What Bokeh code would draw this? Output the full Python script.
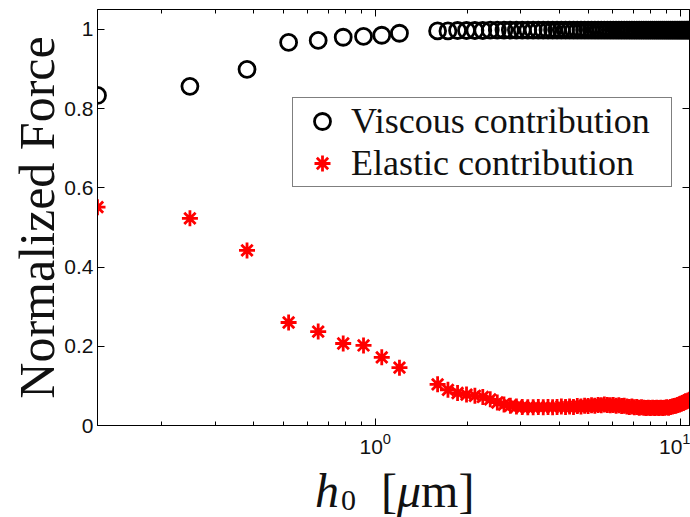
from bokeh.plotting import figure
from bokeh.models import (LogAxis, LinearAxis, FixedTicker, LogTickFormatter, Range1d,
                          Legend, LegendItem, ColumnDataSource, Div)
from bokeh.layouts import column
from bokeh.embed import file_html
from bokeh.resources import INLINE

# ---------------- data ----------------
h0 = [0.123, 0.247, 0.38, 0.52, 0.65, 0.785, 0.915, 1.05, 1.2,
      1.60, 1.73, 1.86, 1.99, 2.12, 2.25, 2.38, 2.51, 2.64, 2.77,
      2.90, 3.03, 3.16, 3.29, 3.42, 3.55, 3.68, 3.81, 3.94, 4.07,
      4.20, 4.33, 4.46, 4.59, 4.72, 4.85, 4.98, 5.11, 5.24, 5.37,
      5.50, 5.63, 5.76, 5.89, 6.02, 6.15, 6.28, 6.41, 6.54, 6.67,
      6.80, 6.93, 7.06, 7.19, 7.32, 7.45, 7.58, 7.71, 7.84, 7.97,
      8.10, 8.23, 8.36, 8.49, 8.62, 8.75, 8.88, 9.01, 9.14, 9.27,
      9.40, 9.53, 9.66, 9.79, 9.92, 10.05, 10.18, 10.31, 10.44, 10.57,
      10.70]

viscous = [0.833, 0.856, 0.899, 0.967, 0.972, 0.980, 0.982, 0.985, 0.990,
           0.996, 0.996, 0.997, 0.997, 0.997, 0.997, 0.998, 0.998, 0.998, 0.998,
           0.998, 0.998, 0.998, 0.998, 0.998, 0.998, 0.998, 0.998, 0.998, 0.998,
           0.998, 0.998, 0.998, 0.998, 0.998, 0.998, 0.998, 0.998, 0.998, 0.998,
           0.998, 0.998, 0.998, 0.998, 0.998, 0.998, 0.998, 0.998, 0.998, 0.998,
           0.998, 0.998, 0.998, 0.998, 0.998, 0.998, 0.998, 0.998, 0.998, 0.998,
           0.998, 0.998, 0.998, 0.998, 0.998, 0.998, 0.998, 0.998, 0.998, 0.998,
           0.998, 0.998, 0.998, 0.998, 0.998, 0.998, 0.998, 0.998, 0.998, 0.998,
           0.998]

elastic = [0.551, 0.523, 0.442, 0.260, 0.237, 0.207, 0.202, 0.172, 0.146,
           0.104, 0.090, 0.082, 0.078, 0.075, 0.072, 0.066, 0.058, 0.053, 0.050,
           0.048, 0.047, 0.046, 0.046, 0.047, 0.046, 0.047, 0.046, 0.047, 0.048,
           0.047, 0.048, 0.047, 0.049, 0.048, 0.050, 0.049, 0.051, 0.050, 0.052,
           0.051, 0.053, 0.052, 0.051, 0.052, 0.050, 0.051, 0.049, 0.050, 0.048,
           0.047, 0.048, 0.046, 0.047, 0.045, 0.046, 0.045, 0.044, 0.045, 0.044,
           0.045, 0.044, 0.045, 0.044, 0.045, 0.044, 0.045, 0.046, 0.045, 0.047,
           0.048, 0.049, 0.050, 0.052, 0.053, 0.055, 0.057, 0.059, 0.061, 0.063,
           0.065]

y_ticks = [0, 0.2, 0.4, 0.6, 0.8, 1]
y_tick_labels = ["0", "0.2", "0.4", "0.6", "0.8", "1"]
x_major_ticks = [1, 10]
x_minor_ticks = [0.2, 0.3, 0.4, 0.5, 0.6, 0.7, 0.8, 0.9,
                 2, 3, 4, 5, 6, 7, 8, 9]

series_labels = ["Viscous contribution", "Elastic contribution"]
y_label = "Normalized Force"

# ---------------- figure ----------------
src = ColumnDataSource(dict(h0=h0, viscous=viscous, elastic=elastic))

p = figure(width=690, height=462, x_axis_type="log",
           x_range=Range1d(h0[0], h0[-1]), y_range=Range1d(0, 1.05),
           output_backend="svg", toolbar_location=None,
           min_border_left=97, min_border_right=1,
           min_border_top=9, min_border_bottom=37)
p.grid.visible = False
p.outline_line_color = "black"
p.outline_line_width = 1
p.background_fill_color = "white"
p.border_fill_color = "white"

TICK_FONT = "Liberation Sans"
SERIF = "Liberation Serif"


def style_axis(ax, labels=True):
    ax.axis_line_color = "black"
    ax.axis_line_width = 1
    ax.major_tick_in = 7
    ax.major_tick_out = 0
    ax.minor_tick_in = 4
    ax.minor_tick_out = 0
    ax.major_tick_line_color = "black"
    ax.minor_tick_line_color = "black"
    if labels:
        ax.major_label_text_font = TICK_FONT
        ax.major_label_text_font_size = "21px"
        ax.major_label_text_color = "#111111"
    else:
        ax.major_label_text_font_size = "1px"
        ax.major_label_text_color = None
        ax.major_label_standoff = 0


xax = p.xaxis[0]
xax.ticker = FixedTicker(ticks=x_major_ticks, minor_ticks=x_minor_ticks)
xax.formatter = LogTickFormatter()
style_axis(xax)
xax.major_label_standoff = 7

yax = p.yaxis[0]
yax.ticker = FixedTicker(ticks=y_ticks)
yax.major_label_overrides = {t: s for t, s in zip(y_ticks, y_tick_labels)}
style_axis(yax)
yax.minor_tick_line_color = None
yax.major_label_standoff = 4
yax.axis_label = y_label
yax.axis_label_text_font = SERIF
yax.axis_label_text_font_size = "50px"
yax.axis_label_text_font_style = "normal"
yax.axis_label_text_color = "#111111"
yax.axis_label_standoff = -4

top_ax = LogAxis(ticker=FixedTicker(ticks=x_major_ticks, minor_ticks=x_minor_ticks))
style_axis(top_ax, labels=False)
p.add_layout(top_ax, "above")

right_ax = LinearAxis(ticker=FixedTicker(ticks=y_ticks))
style_axis(right_ax, labels=False)
right_ax.minor_tick_line_color = None
p.add_layout(right_ax, "right")

r_visc = p.scatter(x="h0", y="viscous", source=src, marker="circle", size=16,
                   fill_color=None, line_color="black", line_width=2.8)
r_elas = p.scatter(x="h0", y="elastic", source=src, marker="asterisk", size=16,
                   line_color="red", line_width=2.8)

legend = Legend(items=[LegendItem(label=series_labels[0], renderers=[r_visc]),
                       LegendItem(label=series_labels[1], renderers=[r_elas])],
                location=(195, 238))
legend.border_line_color = "black"
legend.border_line_width = 1
legend.background_fill_color = "white"
legend.background_fill_alpha = 1
legend.label_text_font = SERIF
legend.label_text_font_size = "36px"
legend.label_text_color = "#111111"
legend.glyph_width = 54
legend.glyph_height = 40
legend.label_height = 40
legend.label_width = 318
legend.label_standoff = 2
legend.padding = 2
legend.spacing = 0
legend.margin = 0
p.add_layout(legend)

# x-axis title: h_0 [mu m] with TeX-like italics, as real HTML text
x_label_html = (
    '<span style="font-style:italic">h</span>'
    '<span style="font-size:30px;position:relative;top:3px;margin-left:2px">0</span>'
    '<span style="margin-left:25px">[</span>'
    '<span style="font-style:italic">\u03bc</span>'
    '<span>m]</span>'
)
x_title = Div(text=x_label_html, width=690, height=55,
              styles={"font-family": "'Liberation Serif', serif",
                      "font-size": "48px", "line-height": "48px",
                      "color": "#111111", "padding-left": "310px",
                      "padding-top": "0px", "box-sizing": "border-box",
                      "white-space": "nowrap", "overflow": "visible"})

layout = column(p, x_title, spacing=0)
open("out.html", "w").write(file_html(layout, INLINE))
